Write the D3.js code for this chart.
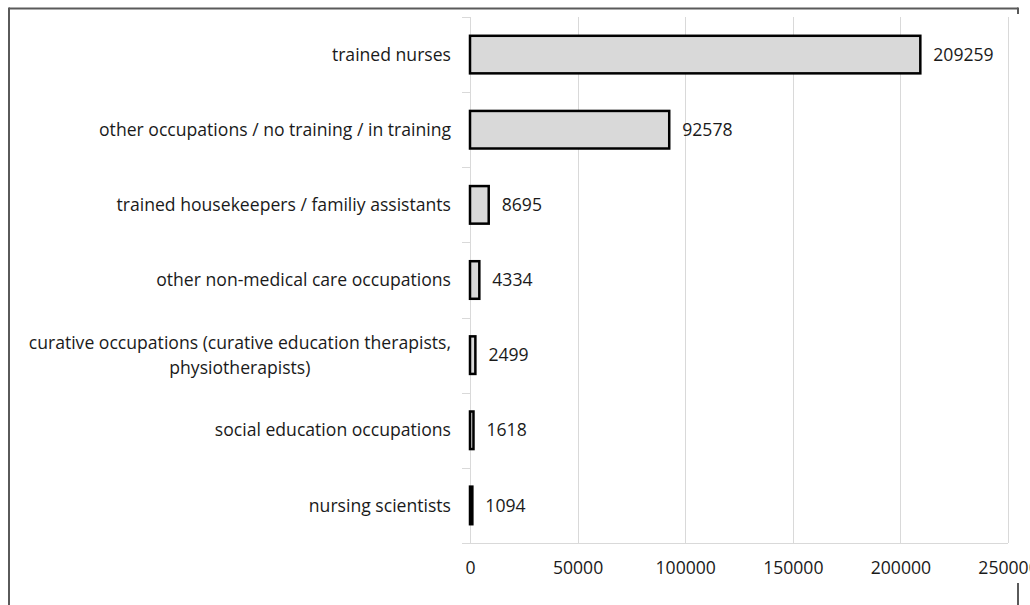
<!DOCTYPE html>
<html>
<head>
<meta charset="utf-8">
<script src="https://cdn.jsdelivr.net/npm/d3@7"></script>
<style>
  html, body { margin: 0; padding: 0; background: #fff; }
  svg { display: block; }
  text { font-family: "Open Sans", "Noto Sans", sans-serif; fill: #1a1a1a; }
</style>
</head>
<body>
<svg id="chart" width="1030" height="605"></svg>
<script>
// occupations, top to bottom
var categories = [
  "trained nurses",
  "other occupations / no training / in training",
  "trained housekeepers / familiy assistants",
  "other non-medical care occupations",
  "curative occupations (curative education therapists,|physiotherapists)",
  "social education occupations",
  "nursing scientists"
];
var values = [209259, 92578, 8695, 4334, 2499, 1618, 1094];
var xTicks = [0, 50000, 100000, 150000, 200000, 250000];

var m = [17, 22, 62, 470]; // top, right, bottom, left
var W = 1030, H = 605;
var fs = "17.6px";

var svg = d3.select("#chart");

var x = d3.scaleLinear().domain([0, 250000]).range([m[3], 1008]);
var y = d3.scaleBand().domain(d3.range(categories.length)).range([m[0], 543]).paddingInner(0.5).paddingOuter(0.25);
var band = d3.scaleBand().domain(d3.range(categories.length)).range([m[0], 543]);

// outer frame (cropped)
var frame = svg.append("g").attr("stroke", "#5a5a5a").attr("stroke-width", 2).attr("fill", "none");
frame.append("line").attr("x1", 9).attr("x2", 1018).attr("y1", 8.5).attr("y2", 8.5);
frame.append("line").attr("x1", 9).attr("x2", 9).attr("y1", 7.5).attr("y2", H);
frame.append("line").attr("x1", 1018).attr("x2", 1018).attr("y1", 7.5).attr("y2", 14);
frame.append("line").attr("x1", 1018).attr("x2", 1018).attr("y1", 583).attr("y2", H);

// vertical gridlines
svg.append("g").selectAll("line")
  .data(xTicks.slice(1))
  .enter().append("line")
    .attr("x1", function(d) { return Math.round(x(d)) + 0.5; })
    .attr("x2", function(d) { return Math.round(x(d)) + 0.5; })
    .attr("y1", m[0]).attr("y2", 543)
    .attr("stroke", "#d9d9d9").attr("stroke-width", 1);

// x axis
var xAxis = d3.axisBottom(x).tickValues(xTicks).tickSize(0).tickPadding(19).tickFormat(d3.format("d"));
var gx = svg.append("g").attr("transform", "translate(0,543)").call(xAxis);
gx.select(".domain").remove();
gx.selectAll("text").style("font-size", fs).attr("fill", "#1a1a1a");
svg.append("line").attr("x1", 462).attr("x2", 1008).attr("y1", 543.5).attr("y2", 543.5)
  .attr("stroke", "#d9d9d9").attr("stroke-width", 1);

// y axis line + category ticks
svg.append("line").attr("x1", 470.5).attr("x2", 470.5).attr("y1", m[0]).attr("y2", 543)
  .attr("stroke", "#d9d9d9").attr("stroke-width", 1);
svg.append("g").selectAll("line")
  .data(d3.range(categories.length))
  .enter().append("line")
    .attr("x1", 462).attr("x2", 470)
    .attr("y1", function(d) { return Math.round(band(d)) + 0.5; })
    .attr("y2", function(d) { return Math.round(band(d)) + 0.5; })
    .attr("stroke", "#d9d9d9");

// bars
svg.append("g").selectAll("rect")
  .data(values)
  .enter().append("rect")
    .attr("x", x(0))
    .attr("y", function(d, i) { return y(i); })
    .attr("width", function(d) { return x(d) - x(0); })
    .attr("height", y.bandwidth())
    .attr("fill", "#d9d9d9")
    .attr("stroke", "#000")
    .attr("stroke-width", 2.5);

// value labels
svg.append("g").selectAll("text")
  .data(values)
  .enter().append("text")
    .attr("x", function(d) { return x(d) + 13; })
    .attr("y", function(d, i) { return band(i) + band.bandwidth() / 2; })
    .attr("dy", "0.35em")
    .style("font-size", fs)
    .text(function(d) { return d; });

// category labels
var labels = svg.append("g").selectAll("g")
  .data(categories)
  .enter().append("g");
labels.each(function(d, i) {
  var lines = d.split("|");
  var cy = band(i) + band.bandwidth() / 2;
  var g = d3.select(this);
  if (lines.length === 1) {
    g.append("text").attr("x", 451).attr("y", cy).attr("dy", "0.35em")
      .attr("text-anchor", "end").style("font-size", fs).text(d);
  } else {
    var t0 = g.append("text").attr("x", 451).attr("y", cy - 12).attr("dy", "0.35em")
      .attr("text-anchor", "end").style("font-size", fs).text(lines[0]);
    var w = t0.node().getComputedTextLength();
    g.append("text").attr("x", 451 - w / 2).attr("y", cy + 12.5).attr("dy", "0.35em")
      .attr("text-anchor", "middle").style("font-size", fs).text(lines[1]);
  }
});
</script>
</body>
</html>
